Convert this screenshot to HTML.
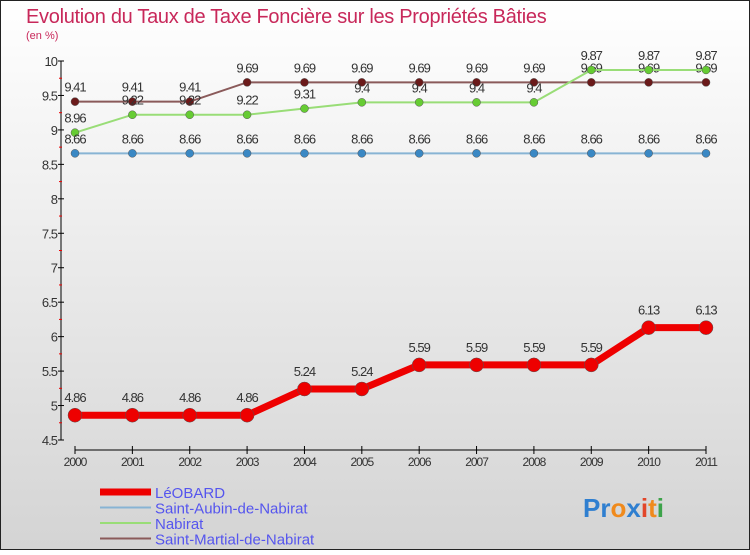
<!DOCTYPE html>
<html><head><meta charset="utf-8"><style>
body{margin:0}
svg text{font-family:"Liberation Sans",sans-serif}
</style></head><body>
<svg width="750" height="550" xmlns="http://www.w3.org/2000/svg">
<defs><linearGradient id="bg" x1="0" y1="0" x2="0" y2="1"><stop offset="0" stop-color="#ffffff"/><stop offset="1" stop-color="#d4d4d4"/></linearGradient></defs>
<rect x="0.5" y="0.5" width="749" height="549" fill="url(#bg)" stroke="#222"/>
<text x="26" y="23" font-size="20" fill="#c8285a" letter-spacing="-0.3">Evolution du Taux de Taxe Foncière sur les Propriétés Bâties</text>
<text x="26" y="39" font-size="11" fill="#c8285a">(en %)</text>
<g id="axes"></g>
<g id="series"></g>
<g id="legend"></g>
<g font-size="26" font-weight="bold">
<text x="583" y="517"><tspan fill="#2f7fd0">Pr</tspan><tspan fill="#f08a1c">o</tspan><tspan fill="#2f7fd0">x</tspan><tspan fill="#e2462a">i</tspan><tspan fill="#f08a1c">t</tspan><tspan fill="#3da34a">i</tspan></text>
</g>
</svg>
<script>
const years=["2000","2001","2002","2003","2004","2005","2006","2007","2008","2009","2010","2011"];
const leobard=[4.86,4.86,4.86,4.86,5.24,5.24,5.59,5.59,5.59,5.59,6.13,6.13];
const saintAubin=[8.66,8.66,8.66,8.66,8.66,8.66,8.66,8.66,8.66,8.66,8.66,8.66];
const nabirat=[8.96,9.22,9.22,9.22,9.31,9.4,9.4,9.4,9.4,9.87,9.87,9.87];
const saintMartial=[9.41,9.41,9.41,9.69,9.69,9.69,9.69,9.69,9.69,9.69,9.69,9.69];
const yTicks=[4.5,5,5.5,6,6.5,7,7.5,8,8.5,9,9.5,10];
const yTickLabels=["4.5","5","5.5","6","6.5","7","7.5","8","8.5","9","9.5","10"];
const NS="http://www.w3.org/2000/svg";
function X(i){return 75+i*(706-75)/11;}
function Y(v){return 440-(v-4.5)*(379/5.5);}
function mk(t,a,p){const e=document.createElementNS(NS,t);for(const k in a)e.setAttribute(k,a[k]);p.appendChild(e);return e;}
const ax=document.getElementById('axes');
let l=mk('line',{x1:61,y1:Y(10),x2:61,y2:Y(4.5),stroke:'#000'},ax);


yTicks.forEach((v,i)=>{
 mk('line',{x1:58,y1:Y(v),x2:64,y2:Y(v),stroke:'#000'},ax);
 if(i<yTicks.length-1){mk('line',{x1:59,y1:Y(v+0.25),x2:62,y2:Y(v+0.25),stroke:'#e00'},ax);}
 const t=mk('text',{x:57,y:Y(v)+5,'text-anchor':'end','font-size':'13',fill:'#333','letter-spacing':'-1'},ax);
 
 
 t.textContent=yTickLabels[i];
});
l=mk('line',{x1:X(0),y1:450,x2:X(11),y2:450,stroke:'#000'},ax);


years.forEach((y,i)=>{
 mk('line',{x1:X(i),y1:446,x2:X(i),y2:454,stroke:'#000'},ax);
 const t=mk('text',{x:X(i),y:466,'text-anchor':'middle','font-size':'12',fill:'#333','letter-spacing':'-1'},ax);
 
 
 t.textContent=y;
});
const sg=document.getElementById('series');
const defs=[
 {name:'saint-martial',data:saintMartial,c:'#8a5a5a',d:'#6b1a1a',w:2,r:4},
 {name:'nabirat',data:nabirat,c:'#99dd77',d:'#66cc33',w:2,r:4},
 {name:'saint-aubin',data:saintAubin,c:'#88b4d4',d:'#3a88c4',w:2,r:4},
 {name:'leobard',data:leobard,c:'#ee0000',d:'#ee0000',w:7,r:7}
];
defs.forEach(s=>{
 const g=mk('g',{},sg);
 
 
 const p=mk('polyline',{points:s.data.map((v,i)=>X(i)+','+Y(v)).join(' '),fill:'none',stroke:s.c,'stroke-width':s.w},g);
 
 
 s.data.forEach((v,i)=>{
  const c=mk('circle',{cx:X(i),cy:Y(v),r:s.r,fill:s.d,stroke:'#555','stroke-width':0.5},g);
  
  
  const t=mk('text',{x:X(i),y:Y(v)-(s.r+6),'text-anchor':'middle','font-size':'13',fill:'#333','letter-spacing':'-1'},g);
  
  
  t.textContent=String(v);
 });
});
const lg=document.getElementById('legend');
const legendItems=[["LéOBARD","#ee0000",7],["Saint-Aubin-de-Nabirat","#88b4d4",2],["Nabirat","#99dd77",2],["Saint-Martial-de-Nabirat","#8a5a5a",2]];
legendItems.forEach((it,i)=>{
 const y=492+i*15.5;
 const g=mk('g',{},lg);
 
 
 mk('line',{x1:100,y1:y,x2:151,y2:y,stroke:it[1],'stroke-width':it[2]},g);
 const t=mk('text',{x:155,y:y+6,'font-size':'15',fill:'#5555ee'},g);
 t.textContent=it[0];
});
</script>
</body></html>
